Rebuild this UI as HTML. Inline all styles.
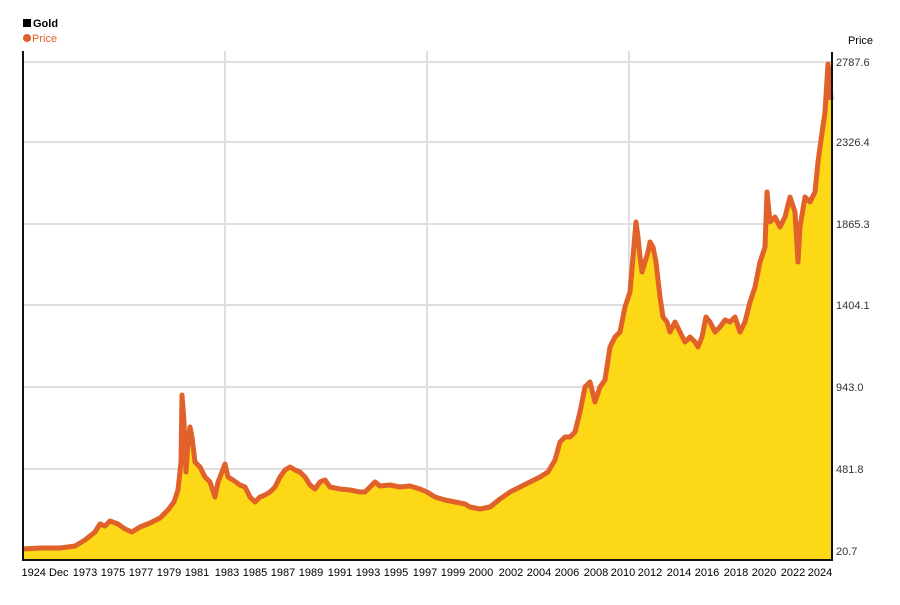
<!DOCTYPE html>
<html><head><meta charset="utf-8"><style>
body{margin:0;background:#fff;}
svg text{font-family:"Liberation Sans",Arial,sans-serif;}
</style></head><body>
<svg width="900" height="600" xmlns="http://www.w3.org/2000/svg">
<rect width="900" height="600" fill="#fff"/>
<rect x="23" y="19" width="8" height="8" fill="#000"/>
<text x="33" y="27" font-size="11" font-weight="bold" fill="#000">Gold</text>
<circle cx="27" cy="38" r="4" fill="#e0622a"/>
<text x="32" y="42" font-size="11" fill="#e0622a">Price</text>
<text x="873" y="44" font-size="11" fill="#000" text-anchor="end">Price</text>
<g stroke="#dedede" stroke-width="2">
<line x1="23" y1="62" x2="832" y2="62"/><line x1="23" y1="142" x2="832" y2="142"/>
<line x1="23" y1="224" x2="832" y2="224"/><line x1="23" y1="305" x2="832" y2="305"/>
<line x1="23" y1="387" x2="832" y2="387"/><line x1="23" y1="469" x2="832" y2="469"/>
<line x1="23" y1="551" x2="832" y2="551"/>
<line x1="225" y1="51" x2="225" y2="560"/><line x1="427" y1="51" x2="427" y2="560"/><line x1="629" y1="51" x2="629" y2="560"/>
</g>
<polygon fill="#fdd817" points="23,560 23,549 40,548 60,548 75,546 85,540 95,532 100,524 105,526 110,521 118,524 125,529 132,532 140,527 150,523 160,518 168,510 174,502 178,490 181,462 182,395 184,422 186,472 188,442 190,427 192,437 195,462 200,467 205,477 210,482 215,497 218,482 222,472 225,464 228,477 233,480 240,485 245,487 250,497 255,502 260,497 265,495 270,492 275,487 280,477 285,470 290,467 295,470 300,472 305,477 310,485 315,489 320,482 325,480 330,487 340,489 350,490 360,492 365,492 370,487 375,482 380,486 390,485 400,487 410,486 420,489 427,492 435,497 445,500 455,502 465,504 470,507 480,509 490,507 500,499 510,492 520,487 530,482 540,477 548,472 555,460 560,442 565,437 570,437 575,432 580,412 585,387 590,382 595,402 600,387 605,380 610,347 615,337 620,332 625,307 630,292 633,257 636,222 638,237 640,257 642,272 645,262 648,252 650,242 653,247 656,262 660,297 663,317 667,322 670,332 675,322 680,332 685,342 690,337 695,342 698,347 702,337 706,317 710,322 715,332 720,327 725,320 730,322 735,317 740,332 745,322 750,302 755,287 760,262 765,247 767,192 770,222 775,217 780,227 785,217 790,197 795,212 798,262 800,227 805,197 810,202 815,192 818,162 820,147 825,112 828,64 830,80 832,100 832,560"/>
<polyline fill="none" stroke="#e0622a" stroke-width="5" stroke-linejoin="round" points="23,549 40,548 60,548 75,546 85,540 95,532 100,524 105,526 110,521 118,524 125,529 132,532 140,527 150,523 160,518 168,510 174,502 178,490 181,462 182,395 184,422 186,472 188,442 190,427 192,437 195,462 200,467 205,477 210,482 215,497 218,482 222,472 225,464 228,477 233,480 240,485 245,487 250,497 255,502 260,497 265,495 270,492 275,487 280,477 285,470 290,467 295,470 300,472 305,477 310,485 315,489 320,482 325,480 330,487 340,489 350,490 360,492 365,492 370,487 375,482 380,486 390,485 400,487 410,486 420,489 427,492 435,497 445,500 455,502 465,504 470,507 480,509 490,507 500,499 510,492 520,487 530,482 540,477 548,472 555,460 560,442 565,437 570,437 575,432 580,412 585,387 590,382 595,402 600,387 605,380 610,347 615,337 620,332 625,307 630,292 633,257 636,222 638,237 640,257 642,272 645,262 648,252 650,242 653,247 656,262 660,297 663,317 667,322 670,332 675,322 680,332 685,342 690,337 695,342 698,347 702,337 706,317 710,322 715,332 720,327 725,320 730,322 735,317 740,332 745,322 750,302 755,287 760,262 765,247 767,192 770,222 775,217 780,227 785,217 790,197 795,212 798,262 800,227 805,197 810,202 815,192 818,162 820,147 825,112 828,64 830,80 831,100"/>
<line x1="23" y1="51" x2="23" y2="561" stroke="#111" stroke-width="2"/>
<line x1="22" y1="560" x2="833" y2="560" stroke="#111" stroke-width="2"/>
<line x1="832" y1="52" x2="832" y2="561" stroke="#111" stroke-width="2"/>
<g font-size="11" fill="#333">
<text x="836" y="66">2787.6</text><text x="836" y="146">2326.4</text>
<text x="836" y="228">1865.3</text><text x="836" y="309">1404.1</text>
<text x="836" y="391">943.0</text><text x="836" y="473">481.8</text>
<text x="836" y="555">20.7</text>
</g>
<g font-size="11" fill="#000" text-anchor="middle">
<text x="45" y="576">1924 Dec</text><text x="85" y="576">1973</text><text x="113" y="576">1975</text>
<text x="141" y="576">1977</text><text x="169" y="576">1979</text><text x="197" y="576">1981</text>
<text x="227" y="576">1983</text><text x="255" y="576">1985</text><text x="283" y="576">1987</text>
<text x="311" y="576">1989</text><text x="340" y="576">1991</text><text x="368" y="576">1993</text>
<text x="396" y="576">1995</text><text x="425" y="576">1997</text><text x="453" y="576">1999</text>
<text x="481" y="576">2000</text><text x="511" y="576">2002</text><text x="539" y="576">2004</text>
<text x="567" y="576">2006</text><text x="596" y="576">2008</text><text x="623" y="576">2010</text>
<text x="650" y="576">2012</text><text x="679" y="576">2014</text><text x="707" y="576">2016</text>
<text x="736" y="576">2018</text><text x="764" y="576">2020</text><text x="793" y="576">2022</text>
<text x="820" y="576">2024</text>
</g>
</svg>
</body></html>
